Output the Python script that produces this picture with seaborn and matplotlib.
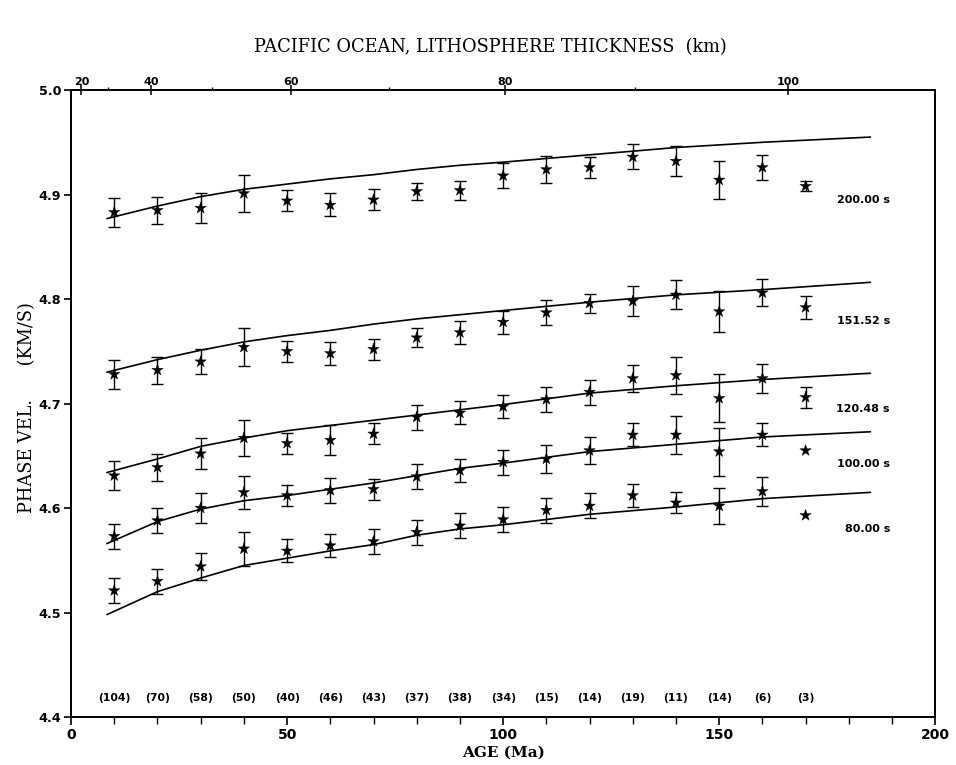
import numpy as np
import pandas as pd
import matplotlib
matplotlib.use("Agg")
import matplotlib.pyplot as plt
import seaborn as sns

# ---------------- data ----------------
ages = [10, 20, 30, 40, 50, 60, 70, 80, 90, 100, 110, 120, 130, 140, 150, 160, 170]
counts = [104, 70, 58, 50, 40, 46, 43, 37, 38, 34, 15, 14, 19, 11, 14, 6, 3]

periods = ["200.00 s", "151.52 s", "120.48 s", "100.00 s", "80.00 s"]

v200 = [4.883, 4.885, 4.887, 4.901, 4.894, 4.890, 4.895, 4.903, 4.904, 4.918,
        4.924, 4.926, 4.936, 4.932, 4.914, 4.926, 4.908]
e200 = [0.014, 0.013, 0.014, 0.018, 0.010, 0.011, 0.010, 0.008, 0.009, 0.012,
        0.013, 0.010, 0.012, 0.014, 0.018, 0.012, 0.005]
v151 = [4.728, 4.732, 4.740, 4.754, 4.750, 4.748, 4.752, 4.763, 4.768, 4.778,
        4.787, 4.796, 4.798, 4.804, 4.788, 4.806, 4.792]
e151 = [0.014, 0.013, 0.012, 0.018, 0.010, 0.011, 0.010, 0.009, 0.011, 0.011,
        0.012, 0.009, 0.014, 0.014, 0.020, 0.013, 0.011]
v120 = [4.631, 4.639, 4.652, 4.667, 4.662, 4.665, 4.671, 4.687, 4.691, 4.697,
        4.704, 4.711, 4.724, 4.727, 4.705, 4.724, 4.706]
e120 = [0.014, 0.013, 0.015, 0.017, 0.010, 0.014, 0.010, 0.012, 0.011, 0.011,
        0.012, 0.012, 0.013, 0.018, 0.023, 0.014, 0.010]
v100 = [4.573, 4.588, 4.600, 4.615, 4.612, 4.617, 4.618, 4.630, 4.636, 4.644,
        4.647, 4.655, 4.670, 4.670, 4.654, 4.670, 4.655]
e100 = [0.012, 0.012, 0.014, 0.016, 0.010, 0.012, 0.010, 0.012, 0.011, 0.012,
        0.013, 0.013, 0.011, 0.018, 0.023, 0.011, None]
v80 = [4.521, 4.530, 4.544, 4.561, 4.559, 4.564, 4.568, 4.577, 4.583, 4.589,
       4.598, 4.602, 4.612, 4.605, 4.602, 4.616, 4.593]
e80 = [0.012, 0.012, 0.013, 0.016, 0.011, 0.011, 0.012, 0.012, 0.012, 0.012,
       0.012, 0.012, 0.011, 0.010, 0.017, 0.014, None]

fit_ages = [8.3, 20, 30, 40, 50, 60, 70, 80, 90, 100, 120, 140, 160, 185]
fit200 = [4.877, 4.889, 4.898, 4.905, 4.910, 4.915, 4.919, 4.924, 4.928, 4.931, 4.938, 4.945, 4.950, 4.955]
fit151 = [4.730, 4.742, 4.751, 4.759, 4.765, 4.770, 4.776, 4.781, 4.785, 4.789, 4.797, 4.804, 4.809, 4.816]
fit120 = [4.634, 4.647, 4.659, 4.667, 4.674, 4.679, 4.684, 4.689, 4.694, 4.699, 4.710, 4.717, 4.723, 4.729]
fit100 = [4.566, 4.587, 4.599, 4.607, 4.612, 4.618, 4.624, 4.631, 4.638, 4.643, 4.654, 4.661, 4.668, 4.673]
fit80 = [4.498, 4.520, 4.533, 4.545, 4.552, 4.559, 4.565, 4.574, 4.580, 4.584, 4.594, 4.601, 4.609, 4.615]

x_ticks = [0, 50, 100, 150, 200]
y_ticks = [4.4, 4.5, 4.6, 4.7, 4.8, 4.9, 5.0]
top_tick_labels = ["20", "40", "60", "80", "100"]
top_tick_ages = [2.4, 18.5, 51.0, 100.4, 165.9]
top_minor_ages = [8.5, 32.6, 73.5, 130.6]

# ---------------- layout constants ----------------
label_y = [4.8945, 4.779, 4.6943, 4.6426, 4.5804]
label_x = 189.5
count_y = 4.418

values = [v200, v151, v120, v100, v80]
errors = [e200, e151, e120, e100, e80]
fits = [fit200, fit151, fit120, fit100, fit80]

pts = pd.concat([pd.DataFrame({"age": ages, "vel": v, "err": [np.nan if x is None else x for x in e],
                               "period": p}) for p, v, e in zip(periods, values, errors)])
fitdf = pd.concat([pd.DataFrame({"age": fit_ages, "vel": f, "period": p}) for p, f in zip(periods, fits)])

sns.set_style("ticks")
plt.rcParams["font.family"] = ["DejaVu Sans"]
plt.rcParams["text.color"] = "black"
plt.rcParams["axes.labelcolor"] = "black"
plt.rcParams["xtick.color"] = "black"
plt.rcParams["ytick.color"] = "black"
plt.rcParams["axes.edgecolor"] = "black"

fig = plt.figure(figsize=(9.56, 7.65), dpi=100)
ax = fig.add_axes([0.0743, 0.0627, 0.904, 0.8196])

black_pal = {p: "black" for p in periods}
sns.lineplot(data=fitdf, x="age", y="vel", hue="period", palette=black_pal, units="period",
             estimator=None, linewidth=1.2, legend=False, ax=ax, sort=False)

for p in periods:
    d = pts[(pts.period == p) & pts.err.notna()]
    ax.errorbar(d.age, d.vel, yerr=d.err, fmt="none", ecolor="black", elinewidth=1.0,
                capsize=4.5, capthick=1.0)

sns.scatterplot(data=pts, x="age", y="vel", hue="period", palette=black_pal, marker="*",
                s=75, edgecolor="black", linewidth=0.3, legend=False, ax=ax, zorder=3)

for p, ly in zip(periods, label_y):
    ax.text(label_x, ly, p, ha="right", va="center", fontsize=8, fontweight="bold",
            color="black")

for a, c in zip(ages, counts):
    ax.text(a, count_y, f"({c})", ha="center", va="center", fontsize=7.8, fontweight="bold",
            color="black")

ax.set_xlim(0, 200)
ax.set_ylim(4.4, 5.0)
ax.set_xticks(x_ticks)
ax.set_xticks(np.arange(0, 201, 10), minor=True)
ax.set_yticks(y_ticks)
ax.set_yticklabels([f"{t:.1f}" for t in y_ticks])
ax.tick_params(axis="x", which="major", direction="out", length=6, width=1.2,
               labelsize=10, pad=2, top=False)
ax.tick_params(axis="x", which="minor", direction="out", length=5, width=1.0, top=False)
ax.tick_params(axis="y", which="major", direction="out", length=5, width=1.2,
               labelsize=9.2, pad=2, right=False)
for lab in ax.get_xticklabels() + ax.get_yticklabels():
    lab.set_fontweight("bold")

for s in ax.spines.values():
    s.set_linewidth(1.3)
    s.set_visible(True)

ax.set_xlabel("AGE (Ma)", family="DejaVu Serif", fontweight="bold", fontsize=11, color="black")
ax.xaxis.set_label_coords(0.5, -0.046)
ax.set_ylabel("PHASE VEL.      (KM/S)", family="DejaVu Serif", fontsize=12.8, color="black")
ax.yaxis.set_label_coords(-0.040, 0.494)

ax2 = ax.twiny()
ax2.set_xlim(0, 200)
ax2.set_xticks(top_tick_ages)
ax2.set_xticklabels(top_tick_labels)
ax2.set_xticks(top_minor_ages, minor=True)
ax2.tick_params(axis="x", which="major", direction="inout", length=7, width=1.1,
                labelsize=8, pad=-1)
ax2.tick_params(axis="x", which="minor", direction="out", length=2, width=1.0)
for lab in ax2.get_xticklabels():
    lab.set_fontweight("bold")
for s in ax2.spines.values():
    s.set_linewidth(1.3)

fig.text(0.5126, 0.9386, "PACIFIC OCEAN, LITHOSPHERE THICKNESS  (km)",
         ha="center", va="center", family="DejaVu Serif", fontsize=12.8, color="black")

fig.savefig("out.png", dpi=100, facecolor="white")
